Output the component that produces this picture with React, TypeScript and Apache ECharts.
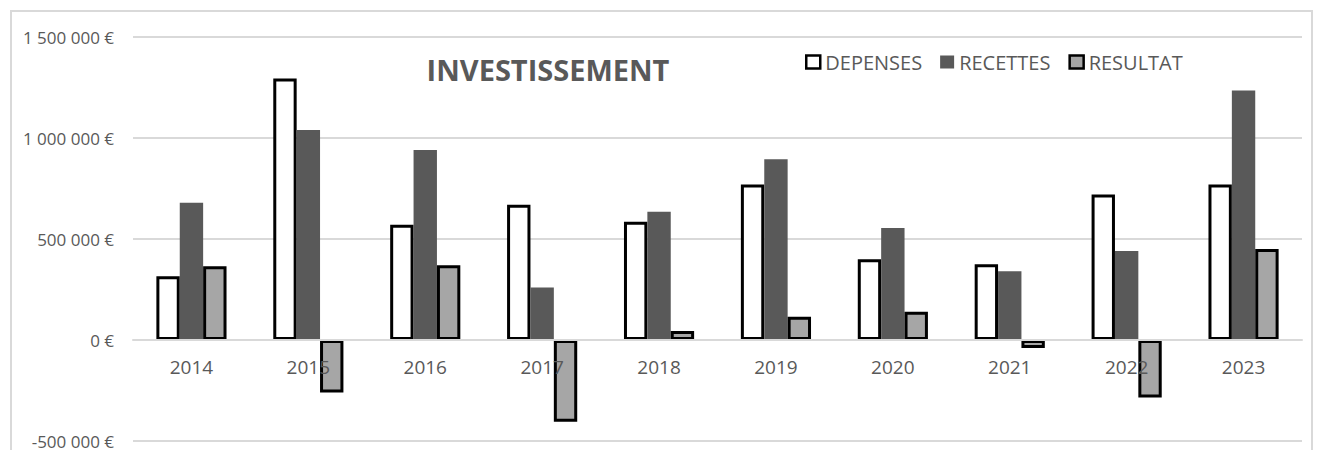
import React, { useEffect, useRef } from "react";
import * as echarts from "echarts";

const years = ["2014", "2015", "2016", "2017", "2018", "2019", "2020", "2021", "2022", "2023"];
const depenses = [315000, 1295000, 570000, 670000, 585000, 770000, 400000, 375000, 720000, 770000];
const recettes = [680000, 1040000, 940000, 260000, 635000, 895000, 555000, 340000, 440000, 1235000];
const resultat = [365000, -260000, 370000, -405000, 45000, 115000, 140000, -40000, -285000, 450000];
const yMin = -500000;
const yMax = 1500000;
const yStep = 500000;
const titleText = "INVESTISSEMENT";
const seriesNames = ["DEPENSES", "RECETTES", "RESULTAT"];

const FONT = "Open Sans";
const TEXT = "#595959";
const GRID = "#d9d9d9";

const GRID_TOP = 37;
const GRID_BOTTOM = 9;
const PLOT_H = 450 - GRID_TOP - GRID_BOTTOM;

function fmt(v: number): string {
  const neg = v < 0;
  const s = Math.abs(v).toString().replace(/\B(?=(\d{3})+(?!\d))/g, " ");
  return (neg ? "-" : "") + s + " €";
}

export default function App() {
  const ref = useRef<HTMLDivElement>(null);
  useEffect(() => {
    if (!ref.current) return;
    const chart = echarts.init(ref.current, undefined, { renderer: "svg" });
    // distance (px) from bottom of the plot to the zero line, derived from the axis range
    const zeroOffset = (PLOT_H * (0 - yMin)) / (yMax - yMin);
    chart.setOption({
      animation: false,
      backgroundColor: "#ffffff",
      textStyle: { fontFamily: FONT },
      graphic: [
        {
          type: "rect",
          z: -1,
          shape: { x: 11, y: 11, width: 1301, height: 470 },
          style: { fill: "none", stroke: GRID, lineWidth: 2 },
        },
        {
          type: "text",
          x: 548,
          y: 69,
          style: {
            text: titleText,
            fontFamily: FONT,
            fontWeight: "bold",
            fontSize: 29,
            fill: TEXT,
            textAlign: "center",
            textVerticalAlign: "middle",
          },
        },
      ],
      legend: {
        left: 800,
        top: 47,
        icon: "rect",
        itemWidth: 14,
        itemHeight: 13,
        itemGap: 18,
        textStyle: { color: TEXT, fontSize: 20, fontFamily: FONT },
        data: [
          { name: seriesNames[0], itemStyle: { color: "#ffffff", borderColor: "#000000", borderWidth: 2.5 } },
          { name: seriesNames[1], itemStyle: { color: "#595959", borderWidth: 0 } },
          { name: seriesNames[2], itemStyle: { color: "#a6a6a6", borderColor: "#000000", borderWidth: 2.5 } },
        ],
      },
      grid: { left: 133, right: 15, top: GRID_TOP, bottom: GRID_BOTTOM, outerBoundsMode: "none", containLabel: false },
      xAxis: {
        type: "category",
        data: years,
        position: "bottom",
        offset: -zeroOffset,
        z: 10,
        axisLine: { onZero: false, lineStyle: { color: GRID, width: 2 } },
        axisTick: { show: false },
        axisLabel: { color: TEXT, fontSize: 19, margin: 17, fontFamily: FONT },
      },
      yAxis: {
        type: "value",
        min: yMin,
        max: yMax,
        interval: yStep,
        axisLine: { show: false },
        axisTick: { show: false },
        splitLine: { lineStyle: { color: GRID, width: 2 } },
        axisLabel: { color: TEXT, fontSize: 17, margin: 19, fontFamily: FONT, formatter: (v: number) => fmt(v) },
      },
      series: [
        {
          name: seriesNames[0],
          type: "bar",
          data: depenses,
          barGap: "0%",
          barCategoryGap: "40%",
          itemStyle: { color: "#ffffff", borderColor: "#000000", borderWidth: 3 },
        },
        {
          name: seriesNames[1],
          type: "bar",
          data: recettes,
          barGap: "0%",
          barCategoryGap: "40%",
          itemStyle: { color: "#595959", borderWidth: 0 },
        },
        {
          name: seriesNames[2],
          type: "bar",
          data: resultat,
          barGap: "0%",
          barCategoryGap: "40%",
          z: 3,
          itemStyle: { color: "#a6a6a6", borderColor: "#000000", borderWidth: 3 },
        },
      ],
    });
    return () => chart.dispose();
  }, []);
  return <div ref={ref} style={{ position: "fixed", left: 0, top: 0, width: 1317, height: 450 }} />;
}
